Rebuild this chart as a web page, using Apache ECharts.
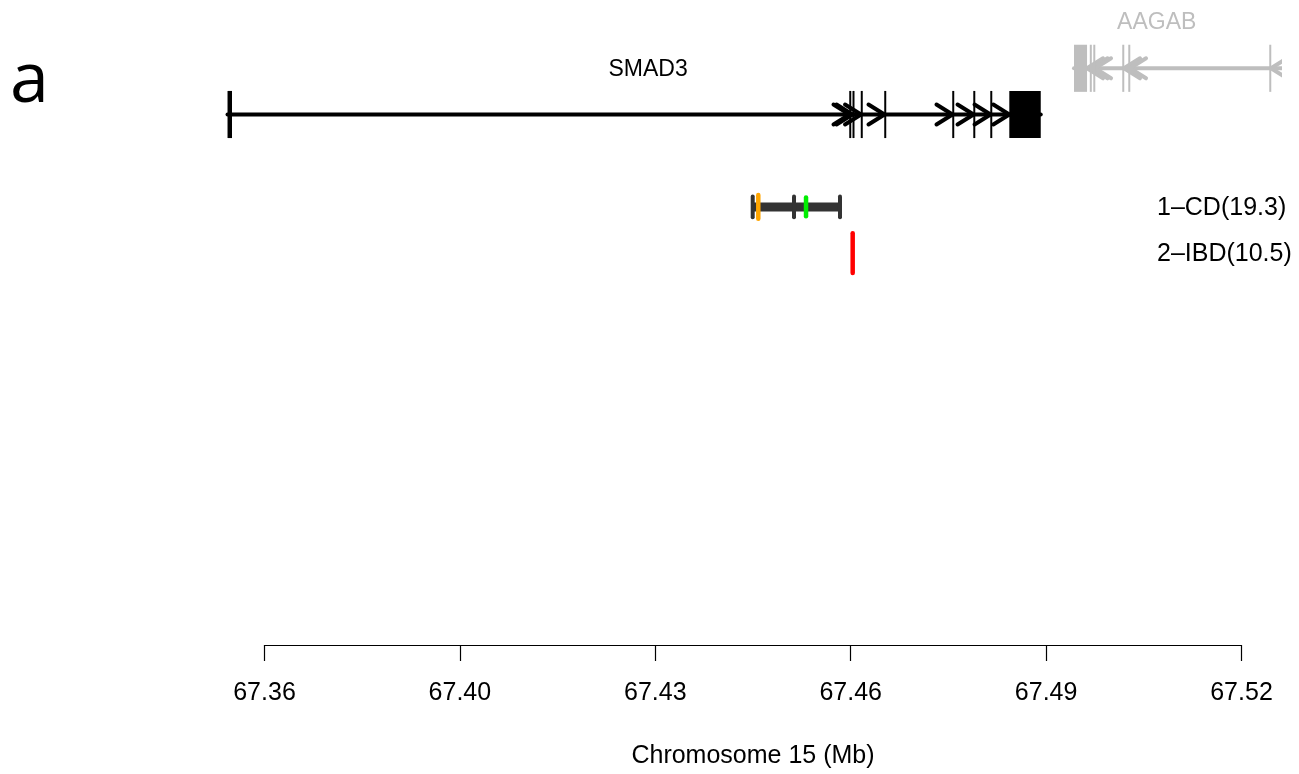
<!DOCTYPE html>
<html>
<head>
<meta charset="utf-8">
<script src="https://cdn.jsdelivr.net/npm/echarts@6/dist/echarts.min.js"></script>
<style>
  html, body { margin: 0; padding: 0; background: #fff; }
  #chart { width: 1299px; height: 774px; }
</style>
</head>
<body>
<div id="chart"></div>
<script>
// ---- Axis ticks (Chromosome 15, Mb) ----
const tickLabels = ['67.36', '67.40', '67.43', '67.46', '67.49', '67.52'];
const tickStart = 67.3625;
const tickStep = 0.0325;

// ---- Gene models: exon [start, end] in Mb ----
const smad3Exons = [
  [67.35635, 67.35709], [67.45980, 67.46005], [67.46030, 67.46063],
  [67.46172, 67.46196], [67.46562, 67.46587], [67.47693, 67.47718],
  [67.48043, 67.48068], [67.48326, 67.48350], [67.48638, 67.49161]
];
const aagabExons = [
  [67.49714, 67.49931], [67.49981, 67.50006], [67.50039, 67.50064],
  [67.50521, 67.50546], [67.50621, 67.50646], [67.52966, 67.52991],
  [67.53620, 67.53650]
];
const genes = [
  { name: 'SMAD3', strand: '+', row: 1, labelAt: 67.4263, exons: smad3Exons, muted: false },
  { name: 'AAGAB', strand: '-', row: 0, labelAt: 67.5109, exons: aagabExons, muted: true }
];

// ---- Fine-mapped credible sets: variant positions (Mb) and posterior weights ----
const cdPositions = [67.44370, 67.44463, 67.45057, 67.45257, 67.45822];
const cdWeights   = [0.52, 0.60, 0.52, 0.47, 0.52];
const cdGroups    = ['member', 'lead', 'member', 'alt', 'member'];
const ibdPositions = [67.46033];
const ibdWeights   = [1.0];
const ibdGroups    = ['ibd'];
const credibleSets = [
  { label: '1\u2013CD(19.3)', row: 3, positions: cdPositions, weights: cdWeights, groups: cdGroups },
  { label: '2\u2013IBD(10.5)', row: 4, positions: ibdPositions, weights: ibdWeights, groups: ibdGroups }
];

// ---- Styling / layout ----
const FONT = "'Liberation Sans', Arial, Helvetica, sans-serif";
const MUTED = '#bebebe';
const groupColor = { member: '#333333', lead: '#ffa500', alt: '#00ee00', ibd: '#ff0000' };
const AXIS_LEFT = 264.5, AXIS_RIGHT = 1241.5, AXIS_Y = 647, PLOT_RIGHT = 1282;
const ROW_PX = 46.2, ROW0_Y = 68.3;
const SET_LABEL_X = 1157;
const HEAD_L = 16, HEAD_H = 10;

const tickEnd = tickStart + tickStep * (tickLabels.length - 1);
const pxPerMb = (AXIS_RIGHT - AXIS_LEFT) / (tickEnd - tickStart);
const dataMin = tickStart - AXIS_LEFT / pxPerMb;
const dataMax = tickStart + (PLOT_RIGHT - AXIS_LEFT) / pxPerMb;
const rowMin = -ROW0_Y / ROW_PX;
const rowMax = rowMin + AXIS_Y / ROW_PX;

function renderGene(params, api) {
  const g = genes[api.value(2)];
  const color = g.muted ? MUTED : '#000000';
  const y = api.coord([g.exons[0][0], g.row])[1];
  const rowH = api.size([0, 1])[1];
  const half = rowH * 0.51;
  const px = v => api.coord([v, g.row])[0];
  const kids = [];
  const x0 = px(g.exons[0][0]);
  const x1 = px(g.exons[g.exons.length - 1][1]);
  kids.push({ type: 'line', shape: { x1: x0, y1: y, x2: x1, y2: y },
    style: { stroke: color, lineWidth: 4, lineCap: 'round' } });
  // direction arrow at the downstream end of every intron
  const dir = g.strand === '+' ? 1 : -1;
  for (let i = 0; i < g.exons.length - 1; i++) {
    const tip = dir > 0 ? px(g.exons[i + 1][0]) : px(g.exons[i][1]);
    kids.push({ type: 'polyline',
      shape: { points: [[tip - dir * HEAD_L, y - HEAD_H], [tip, y], [tip - dir * HEAD_L, y + HEAD_H]] },
      style: { stroke: color, lineWidth: 4, lineCap: 'round', lineJoin: 'round', fill: null } });
  }
  g.exons.forEach(e => {
    const a = px(e[0]), b = px(e[1]);
    const w = Math.max(b - a, 2);
    const c = (a + b) / 2;
    kids.push({ type: 'rect', shape: { x: c - w / 2, y: y - half, width: w, height: half * 2 },
      style: { fill: color } });
  });
  kids.push({ type: 'text', x: px(g.labelAt), y: y - rowH + 1,
    style: { text: g.name, fill: color, font: '23px ' + FONT, align: 'center', verticalAlign: 'middle' } });
  return { type: 'group', children: kids };
}

function renderSet(params, api) {
  const s = credibleSets[api.value(2)];
  const y = api.coord([s.positions[0], s.row])[1];
  const rowH = api.size([0, 1])[1];
  const px = v => api.coord([v, s.row])[0];
  const kids = [];
  if (s.positions.length > 1) {
    const lo = Math.min(...s.positions), hi = Math.max(...s.positions);
    kids.push({ type: 'line', shape: { x1: px(lo), y1: y, x2: px(hi), y2: y },
      style: { stroke: groupColor.member, lineWidth: 9 } });
  }
  // plain members first, highlighted variants on top
  const order = s.positions.map((p, i) => i)
    .sort((a, b) => (s.groups[a] === 'member' ? 0 : 1) - (s.groups[b] === 'member' ? 0 : 1));
  order.forEach(i => {
    const x = px(s.positions[i]);
    const h = s.weights[i] * rowH * 0.43;
    kids.push({ type: 'line', shape: { x1: x, y1: y - h, x2: x, y2: y + h },
      style: { stroke: groupColor[s.groups[i]], lineWidth: s.groups[i] === 'member' ? 4 : 4.5, lineCap: 'round' } });
  });
  kids.push({ type: 'text', x: SET_LABEL_X, y: y + 1,
    style: { text: s.label, fill: '#000', font: '25px ' + FONT, align: 'left', verticalAlign: 'middle' } });
  return { type: 'group', children: kids };
}

const chart = echarts.init(document.getElementById('chart'), null, { renderer: 'canvas' });
chart.setOption({
  animation: false,
  backgroundColor: '#ffffff',
  graphic: [{
    type: 'text', left: 10, top: 47,
    style: { text: 'a', font: '70px "Open Sans", sans-serif', fill: '#000' }
  }],
  grid: [
    { left: 0, top: 0, width: PLOT_RIGHT, height: AXIS_Y },
    { left: AXIS_LEFT, top: 0, width: AXIS_RIGHT - AXIS_LEFT, height: AXIS_Y }
  ],
  xAxis: [
    { gridIndex: 0, type: 'value', min: dataMin, max: dataMax, show: false },
    {
      gridIndex: 1, type: 'category', data: tickLabels, boundaryGap: false,
      axisLine: { show: true, lineStyle: { color: '#000', width: 1.2 } },
      axisTick: { show: true, length: 16, inside: false, alignWithLabel: true, lineStyle: { color: '#000', width: 1.2 } },
      axisLabel: { show: true, margin: 36, color: '#000', fontSize: 25, fontFamily: FONT },
      splitLine: { show: false },
      name: 'Chromosome 15 (Mb)', nameLocation: 'middle', nameGap: 99,
      nameTextStyle: { color: '#000', fontSize: 25, fontFamily: FONT }
    }
  ],
  yAxis: [
    { gridIndex: 0, type: 'value', min: rowMin, max: rowMax, inverse: true, show: false },
    { gridIndex: 1, type: 'value', show: false }
  ],
  series: [
    {
      type: 'custom', xAxisIndex: 0, yAxisIndex: 0, clip: true,
      data: genes.map((g, i) => [g.exons[0][0], g.row, i]),
      encode: { x: 0, y: 1 },
      renderItem: renderGene, silent: true
    },
    {
      type: 'custom', xAxisIndex: 0, yAxisIndex: 0, clip: false,
      data: credibleSets.map((s, i) => [s.positions[0], s.row, i]),
      encode: { x: 0, y: 1 },
      renderItem: renderSet, silent: true
    }
  ]
});
</script>
</body>
</html>
